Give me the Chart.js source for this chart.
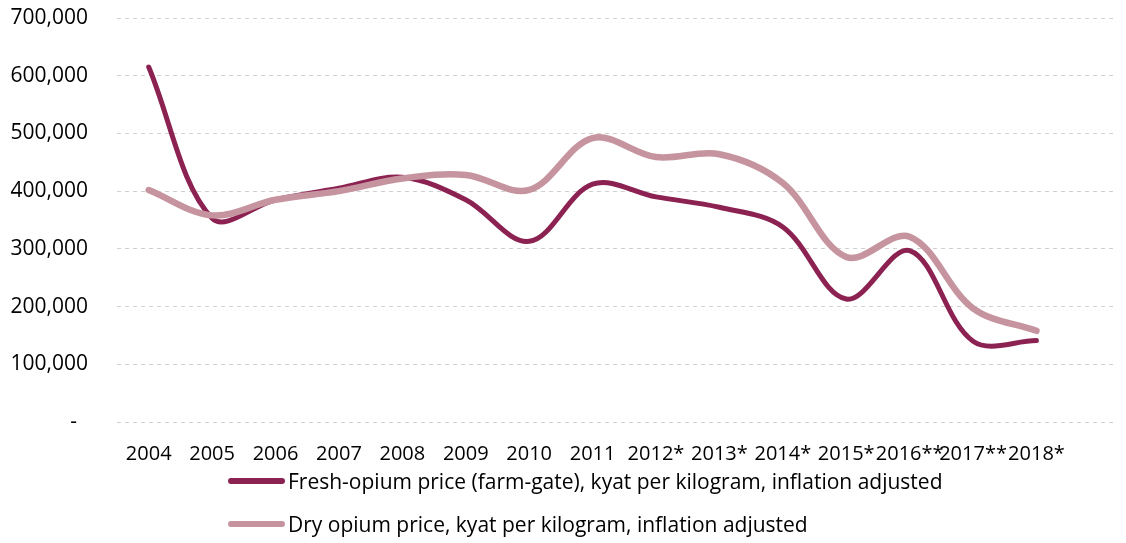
<!DOCTYPE html>
<html>
<head>
<meta charset="utf-8">
<script src="https://cdn.jsdelivr.net/npm/chart.js@4/dist/chart.umd.min.js"></script>
<style>
  body { margin: 0; background: #fff; font-family: "Open Sans", sans-serif; }
  #wrap { position: relative; width: 1126px; height: 543px; }
  #legend { position: absolute; left: 228px; top: 459px; }
  .row { display: flex; align-items: center; height: 43px; font-size: 21px; color: #000; }
  .swatch { width: 57px; height: 6px; border-radius: 3px; margin-right: 3px; }
</style>
</head>
<body>
<div id="wrap">
  <canvas id="chartOpium"></canvas>
  <div id="legend"></div>
</div>
<script>
// 연도 (x축 라벨)
var years = ["2004", "2005", "2006", "2007", "2008", "2009", "2010", "2011",
             "2012*", "2013*", "2014*", "2015*", "2016**", "2017**", "2018*"];

// 생아편 가격 (farm-gate), kyat/kg
var freshPrice = [615000, 353000, 385000, 405000, 424000, 385000, 313000, 412000,
                  390000, 372000, 338000, 213000, 297000, 140000, 141000];

// 건조 아편 가격, kyat/kg
var dryPrice = [402000, 358000, 385000, 400000, 422000, 428000, 402000, 492000,
                459000, 464000, 414000, 286000, 321000, 197000, 158000];

// y축 눈금
var yTicks = [0, 100000, 200000, 300000, 400000, 500000, 600000, 700000];

var seriesNames = [
    "Fresh-opium price (farm-gate), kyat per kilogram, inflation adjusted",
    "Dry opium price, kyat per kilogram, inflation adjusted"
];

var toPoints = function(arr) {
    return arr.map(function(v, i) { return { x: i, y: v }; });
};

var dataChartOpium = {
    datasets: [{
        label: seriesNames[0],
        borderColor: "#8c2251",
        borderWidth: 5,
        order: 2,
        data: toPoints(freshPrice)
    }, {
        label: seriesNames[1],
        borderColor: "#c6949f",
        borderWidth: 6.5,
        order: 1,
        data: toPoints(dryPrice)
    }]
};

var myChartOpium = new Chart(document.getElementById("chartOpium").getContext("2d"), {
    type: "line",
    data: dataChartOpium,
    options: {
        responsive: true,
        maintainAspectRatio: false,
        animation: false,
        layout: { padding: { top: 18, right: 9, left: 0, bottom: 0 } },
        elements: {
            point: { radius: 0 },
            line: { tension: 0.35, borderCapStyle: "round", fill: false }
        },
        plugins: {
            legend: { display: false },
            tooltip: { enabled: false }
        },
        scales: {
            x: {
                type: "linear",
                min: -0.5,
                max: 15.27,
                afterBuildTicks: function(scale) {
                    scale.ticks = years.map(function(y, i) { return { value: i }; });
                },
                afterFit: function(scale) {
                    scale.height = 121;
                    scale.paddingLeft = 0;
                    scale.paddingRight = 0;
                },
                grid: { display: false },
                border: { display: false },
                ticks: {
                    autoSkip: false,
                    maxRotation: 0,
                    padding: 12,
                    color: "#000",
                    font: { family: "Open Sans", size: 20 },
                    callback: function(v) { return years[v]; }
                }
            },
            y: {
                min: 0,
                max: 700000,
                afterBuildTicks: function(scale) {
                    scale.ticks = yTicks.map(function(v) { return { value: v }; });
                },
                afterFit: function(scale) {
                    scale.width = 117;
                    scale.paddingTop = 0;
                    scale.paddingBottom = 0;
                },
                grid: { color: "#d0d0d0", lineWidth: 1, drawTicks: false },
                border: { display: false, dash: [4, 4] },
                ticks: {
                    padding: 29,
                    color: "#000",
                    font: { family: "Open Sans", size: 21 },
                    callback: function(v) {
                        return v === 0 ? "-  " : v.toLocaleString("en-US");
                    }
                }
            }
        }
    }
});

// 범례
var $legend = document.getElementById("legend");
dataChartOpium.datasets.forEach(function(ds) {
    var row = document.createElement("div");
    row.className = "row";
    var sw = document.createElement("span");
    sw.className = "swatch";
    sw.style.background = ds.borderColor;
    var txt = document.createElement("span");
    txt.textContent = ds.label;
    row.appendChild(sw);
    row.appendChild(txt);
    $legend.appendChild(row);
});
</script>
</body>
</html>
